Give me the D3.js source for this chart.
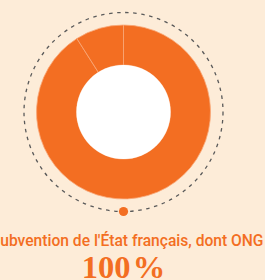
<!DOCTYPE html>
<html>
<head>
<meta charset="utf-8">
<script src="https://cdn.jsdelivr.net/npm/d3@7"></script>
<style>
  html, body { margin: 0; padding: 0; background: #fdecd8; overflow: hidden; }
  svg { display: block; }
</style>
</head>
<body>
<svg id="chart"></svg>
<script>
// parts of the subsidy (share in %)
const parts = ["Autres", "ONG"];
const shares = [91, 9];
const title = "Subvention de l'État français, dont ONG";
const total = "100 %";

const width = 265, height = 280;
const cx = 123.5, cy = 112;
const outerR = 87, innerR = 47, ringR = 99.5;
const orange = "#f36e22";

const svg = d3.select("#chart")
    .attr("width", width)
    .attr("height", height);

const g = svg.append("g").attr("transform", "translate(" + cx + "," + cy + ")");

// dashed ring around the donut
g.append("circle")
    .attr("r", ringR)
    .attr("fill", "none")
    .attr("stroke", "#5a5a5a")
    .attr("stroke-width", 1.3)
    .attr("stroke-dasharray", "3.5 4.6");

const pie = d3.pie().sort(null)(shares);
const arc = d3.arc().innerRadius(innerR).outerRadius(outerR);

g.selectAll("path.slice")
    .data(pie)
    .enter()
    .append("path")
    .attr("class", "slice")
    .attr("d", arc)
    .attr("fill", orange)
    .attr("stroke", "#f9a878")
    .attr("stroke-width", 0.8);

// white hole
g.append("circle")
    .attr("r", innerR)
    .attr("fill", "#ffffff");

// little dot at the bottom of the ring
g.append("circle")
    .attr("cy", ringR)
    .attr("r", 4.6)
    .attr("fill", orange);

// the title is wider than the frame, it runs off on the left
svg.append("text")
    .attr("x", 263.5)
    .attr("y", 245.5)
    .attr("text-anchor", "end")
    .attr("font-family", "Roboto")
    .attr("font-weight", 500)
    .attr("font-size", 15.6)
    .attr("fill", orange)
    .text(title);

svg.append("text")
    .attr("x", cx)
    .attr("y", 278)
    .attr("text-anchor", "middle")
    .attr("font-family", "Liberation Serif")
    .attr("font-weight", 700)
    .attr("font-size", 32.5)
    .attr("word-spacing", -6)
    .attr("fill", orange)
    .text(total);
</script>
</body>
</html>
